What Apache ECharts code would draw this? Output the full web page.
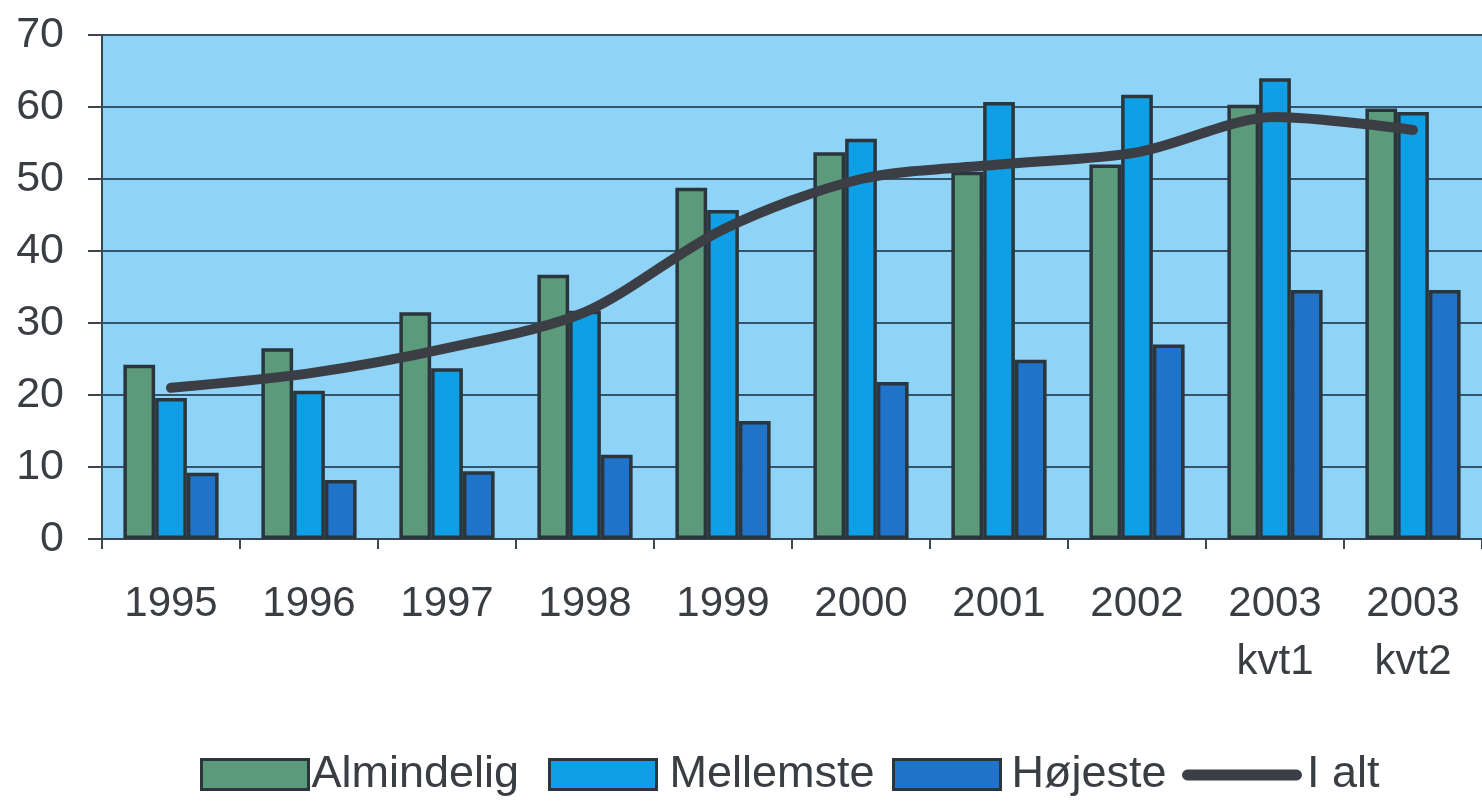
<!DOCTYPE html>
<html><head><meta charset="utf-8">
<script src="https://cdn.jsdelivr.net/npm/echarts@6/dist/echarts.min.js"></script>
<style>html,body{margin:0;padding:0;background:#fff;}#c{width:1482px;height:802px;}</style>
</head><body><div id="c"></div>
<script>
const categories = ['1995','1996','1997','1998','1999','2000','2001','2002','2003\nkvt1','2003\nkvt2'];
const almindelig = [24.2, 26.5, 31.5, 36.7, 48.8, 53.7, 51.0, 52.0, 60.3, 59.8];
const mellemste  = [19.6, 20.6, 23.7, 31.7, 45.7, 55.6, 60.7, 61.7, 64.0, 59.3];
const hojeste    = [9.2, 8.2, 9.4, 11.7, 16.4, 21.8, 24.9, 27.0, 34.6, 34.6];
const ialt       = [21.0, 23.0, 26.5, 31.5, 43.0, 50.0, 52.0, 53.7, 58.6, 56.8];
const yTicks = [0, 10, 20, 30, 40, 50, 60, 70];

const chart = echarts.init(document.getElementById('c'));
const border = {borderColor:'#2b353c', borderWidth:3.5};
const font = 'Liberation Sans, Arial, sans-serif';
const legText = (pl) => ({fontSize:45, color:'#3a3d42', fontFamily:font, padding:[0,0,0,pl]});
const barLegend = (name, left, pl) => ({left:left, top:752, padding:0, itemWidth:107, itemHeight:30, icon:'rect',
  textStyle:legText(pl), data:[name], itemStyle:{borderColor:'#2b353c', borderWidth:3}});
chart.setOption({
  animation:false,
  textStyle:{fontFamily:font},
  grid:{left:102, top:35, right:-18, bottom:263, show:true, backgroundColor:'#8fd3f7', borderWidth:0},
  legend:[
    barLegend('Almindelig', 200, -2),
    barLegend('Mellemste', 548, 8),
    barLegend('Højeste', 892, 6),
    {left:1182, top:752, padding:0, itemWidth:120, itemHeight:30, textStyle:legText(0), data:[{name:'I alt',
      icon:'path://M0,0 L1,0 L0,0 Z M0,30 L1,30 L0,30 Z M120,0 L119,0 L120,0 Z M5,10 L115,10 A5.5,5.5 0 0 1 115,21 L5,21 A5.5,5.5 0 0 1 5,10 Z'}],
      itemStyle:{color:'#3b3f45', borderWidth:0}, lineStyle:{opacity:0}}
  ],
  xAxis:{type:'category', data:categories,
    axisLine:{lineStyle:{color:'#3c4650', width:2}},
    axisTick:{show:true, length:10, lineStyle:{color:'#3c4650', width:2}},
    axisLabel:{fontSize:42, color:'#3a3d42', margin:36, lineHeight:58, fontFamily:font}},
  yAxis:{type:'value', min:0, max:70, interval:10,
    axisLine:{show:true, lineStyle:{color:'#3c4650', width:2}},
    axisTick:{show:true, length:14, lineStyle:{color:'#3c4650', width:2}},
    splitLine:{lineStyle:{color:'#35546a', width:2}},
    axisLabel:{fontSize:43, color:'#3a3d42', margin:38, fontFamily:font,
      formatter:v=>yTicks.includes(v)?String(v):''}},
  series:[
    {name:'Almindelig', type:'bar', data:almindelig, barGap:'0%', barCategoryGap:'31%', itemStyle:Object.assign({color:'#5b9a7a'},border)},
    {name:'Mellemste', type:'bar', data:mellemste, itemStyle:Object.assign({color:'#0f9fe6'},border)},
    {name:'Højeste', type:'bar', data:hojeste, itemStyle:Object.assign({color:'#1f73c9'},border)},
    {name:'I alt', type:'line', data:ialt, smooth:0.3, symbol:'none', z:5,
      lineStyle:{color:'#3b3f45', width:10, cap:'round'}, itemStyle:{color:'#3b3f45'}}
  ]
});
</script></body></html>
